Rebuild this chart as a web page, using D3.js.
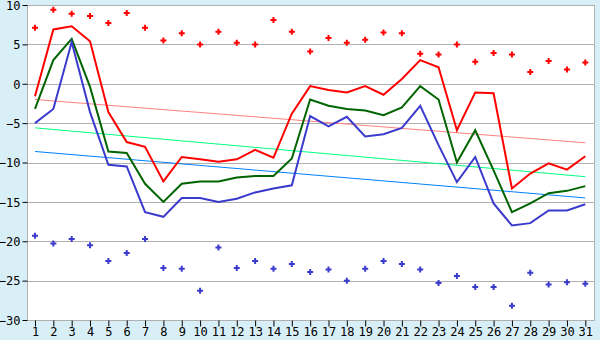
<!DOCTYPE html>
<html>
<head>
<meta charset="utf-8">
<script src="https://cdn.jsdelivr.net/npm/d3@7"></script>
<style>
  body { margin: 0; background: #d9eff7; }
  svg { display: block; }
  .tick text { font-family: "DejaVu Sans Mono", monospace; font-size: 12px; }
</style>
</head>
<body>
<script>
// days of the month
var days = d3.range(1, 32)

// daily max, mean, min
var maxT  = [-1.6, 6.9, 7.3, 5.4, -3.6, -7.4, -8.0, -12.4, -9.3, -9.6, -9.9, -9.6, -8.4, -9.4, -3.8, -0.3, -0.8, -1.1, -0.3, -1.4, 0.6, 3.0, 2.1, -5.9, -1.1, -1.2, -13.3, -11.4, -10.1, -10.9, -9.2]
var meanT = [-3.2, 3.0, 5.7, -0.4, -8.6, -8.8, -12.7, -15.0, -12.7, -12.4, -12.4, -11.9, -11.7, -11.7, -9.5, -2.0, -2.8, -3.2, -3.4, -4.0, -3.0, -0.3, -2.0, -10.0, -5.9, -11.0, -16.3, -15.2, -13.9, -13.6, -13.0]
var minT  = [-5.0, -3.2, 5.3, -3.6, -10.3, -10.5, -16.3, -16.9, -14.5, -14.5, -15.0, -14.6, -13.8, -13.3, -12.9, -4.1, -5.4, -4.2, -6.7, -6.4, -5.6, -2.8, -7.8, -12.5, -9.3, -15.2, -18.0, -17.7, -16.1, -16.1, -15.3]

// record high / low per day
var recHigh = [7.1, 9.4, 8.9, 8.6, 7.7, 9.0, 7.1, 5.5, 6.4, 5.0, 6.6, 5.2, 5.0, 8.1, 6.6, 4.1, 5.8, 5.2, 5.6, 6.5, 6.4, 3.8, 3.7, 5.0, 2.8, 3.9, 3.7, 1.5, 2.9, 1.8, 2.7]
var recLow  = [-19.3, -20.3, -19.7, -20.5, -22.5, -21.5, -19.7, -23.4, -23.5, -26.3, -20.8, -23.4, -22.5, -23.5, -22.9, -23.9, -23.6, -25.0, -23.5, -22.5, -22.9, -23.6, -25.3, -24.4, -25.8, -25.8, -28.2, -24.0, -25.5, -25.2, -25.4]

// normal lines, value on day 1 and day 31
var normDays = [1, 31]
var normMax  = [-2.0, -7.5]
var normMean = [-5.6, -11.8]
var normMin  = [-8.6, -14.5]

var yTicks = [10, 5, 0, -5, -10, -15, -20, -25, -30]

var svg = d3.select("body").append("svg")
  .attr("width", 600)
  .attr("height", 340)

var pLeft = 27, pRight = 595, pTop = 5, pBottom = 320

var x = d3.scalePoint()
  .domain(days)
  .range([35, 585.3])

var y = d3.scaleLinear()
  .domain([-30, 10])
  .range([pBottom, pTop])

svg.append("rect")
  .attr("x", pLeft)
  .attr("y", pTop)
  .attr("width", pRight - pLeft)
  .attr("height", pBottom - pTop)
  .attr("fill", "white")

// grid
svg.selectAll("line.grid")
  .data(yTicks)
  .enter()
  .append("line")
  .classed("grid", true)
  .attr("x1", pLeft)
  .attr("x2", pRight)
  .attr("y1", function(d){ return Math.round(y(d)) + 0.5 })
  .attr("y2", function(d){ return Math.round(y(d)) + 0.5 })
  .attr("stroke", "#b0b0b0")

// frame
svg.append("rect")
  .attr("x", pLeft + 0.5)
  .attr("y", pTop + 0.5)
  .attr("width", pRight - pLeft - 1)
  .attr("height", pBottom - pTop)
  .attr("fill", "none")
  .attr("stroke", "#b0b0b0")

// axes
var yAxis = d3.axisLeft(y)
  .tickValues(yTicks)
  .tickSize(5)
  .tickPadding(2)
  .tickFormat(function(d){ return d < 0 ? "\u2212" + (-d) : d })

svg.append("g")
  .attr("transform", "translate(" + (pLeft + 0.5) + ",0)")
  .call(yAxis)
  .call(function(g){
    g.select(".domain").remove()
    g.selectAll("line").attr("stroke", "#000")
    g.selectAll("text").attr("fill", "#000").attr("dy", "0.36em")
  })

var xAxis = d3.axisBottom(x)
  .tickSize(6)
  .tickPadding(1)

svg.append("g")
  .attr("transform", "translate(0," + (pBottom + 0.5) + ")")
  .call(xAxis)
  .call(function(g){
    g.select(".domain").remove()
    g.selectAll("line").attr("stroke", "#000")
    g.selectAll("text").attr("fill", "#000")
  })

// normal lines
var normals = [
  {v: normMax,  color: "#ff8080"},
  {v: normMean, color: "#00ff80"},
  {v: normMin,  color: "#0080ff"}
]

normals.forEach(function(n){
  svg.append("line")
    .attr("x1", x(normDays[0]))
    .attr("x2", x(normDays[1]))
    .attr("y1", y(n.v[0]))
    .attr("y2", y(n.v[1]))
    .attr("stroke", n.color)
    .attr("stroke-width", 1)
})

// daily lines
var line = d3.line()
  .x(function(d, i){ return x(days[i]) })
  .y(function(d){ return y(d) })

var series = [
  {v: maxT,  color: "#ff0000"},
  {v: meanT, color: "#006400"},
  {v: minT,  color: "#3a3acc"}
]

series.forEach(function(s){
  svg.append("path")
    .datum(s.v)
    .attr("d", line)
    .attr("fill", "none")
    .attr("stroke", s.color)
    .attr("stroke-width", 2)
})

// records
var marker = "M-1,-3h2v2h2v2h-2v2h-2v-2h-2v-2h2z"

svg.selectAll("path.hi")
  .data(recHigh)
  .enter()
  .append("path")
  .classed("hi", true)
  .attr("d", marker)
  .attr("transform", function(d, i){ return "translate(" + x(days[i]) + "," + y(d) + ")" })
  .attr("fill", "#ff0000")

svg.selectAll("path.lo")
  .data(recLow)
  .enter()
  .append("path")
  .classed("lo", true)
  .attr("d", marker)
  .attr("transform", function(d, i){ return "translate(" + x(days[i]) + "," + y(d) + ")" })
  .attr("fill", "#3a3acc")
</script>
</body>
</html>
